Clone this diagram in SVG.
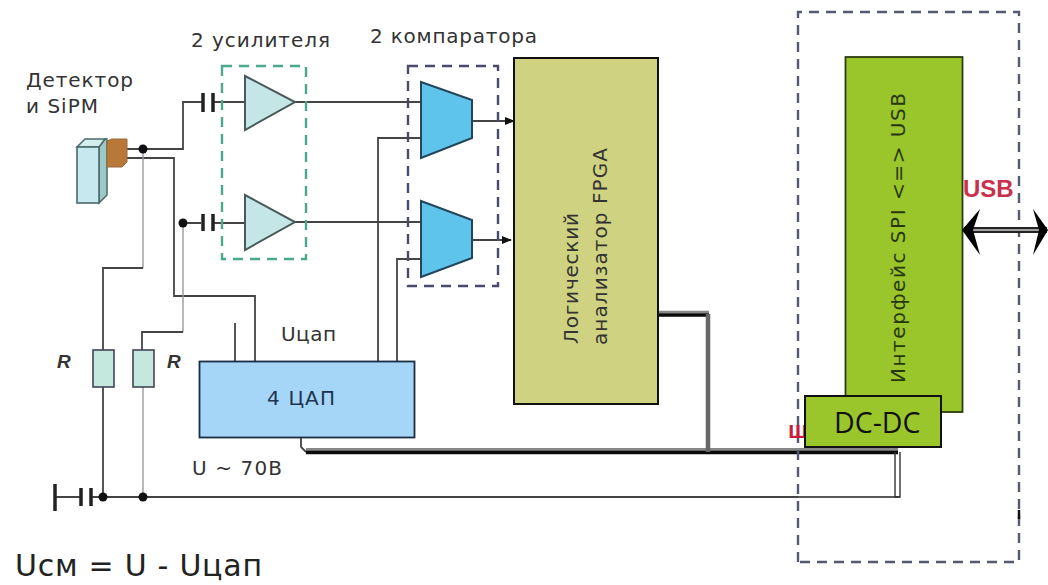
<svg xmlns="http://www.w3.org/2000/svg" width="1048" height="585" viewBox="0 0 1048 585">
<style>
text{font-family:"DejaVu Sans",sans-serif;fill:#333;font-size:20px}
.w{fill:none;stroke:#444;stroke-width:1.8}
.lt{fill:none;stroke:#999;stroke-width:1.4}
.plate{fill:none;stroke:#222;stroke-width:3.5}
.dash{fill:none;stroke-width:2.4;stroke-dasharray:10 7}
.amp{fill:#c4e6e6;stroke:#4a5a5a;stroke-width:2}
.cmp{fill:#5fc4ec;stroke:#24465a;stroke-width:2}
.res{fill:#c4e8de;stroke:#445;stroke-width:1.6}
.dot{fill:#111}
.r{font-family:"Liberation Sans",sans-serif;font-weight:bold;font-style:italic;font-size:19px}
</style>
<defs>
<marker id="ah" markerWidth="10" markerHeight="8" refX="9" refY="4" orient="auto" markerUnits="userSpaceOnUse"><path d="M0 0L10 4L0 8z" fill="#111"/></marker>
</defs>
<rect width="1048" height="585" fill="#fff"/>
<g id="connectors">
<path class="w" d="M127 149H183V102H203M213 102H245M295 102H421"/>
<path class="w" d="M127 158H174V296H255V361"/>
<path class="lt" d="M143 149V268"/>
<path class="w" d="M143 268H103V350M103 387V497"/>
<path class="lt" d="M183 223V332"/>
<path class="w" d="M183 332H142V350"/>
<path class="lt" d="M143 387V497"/>
<path class="w" d="M183 223H201M213 223H245M295 222H421"/>
<path class="w" d="M235 323V361M378 361V138H421M397 361V259H421"/>
<path class="w" marker-end="url(#ah)" d="M472 121H514"/>
<path class="w" marker-end="url(#ah)" d="M472 240H511"/>
<path class="w" d="M55 497H80M90 497H798"/>
<path fill="none" stroke="#222" stroke-width="1.600" d="M798 497H900"/>
<path class="plate" d="M55 484V511" stroke-width="3"/>
<path class="plate" d="M81 488V506M91 488V506"/>
<path class="w" d="M301 437V447L306 452"/>
<path fill="none" stroke="#888" stroke-width="3" d="M306 449.500H898"/>
<path fill="none" stroke="#0a0a0a" stroke-width="3.400" d="M306 452.500H898"/>
<path fill="none" stroke="#888" stroke-width="2.500" d="M658 312H709"/>
<path fill="none" stroke="#0a0a0a" stroke-width="3.400" d="M658 315H709"/>
<path d="M708 314V452" fill="none" stroke="#666" stroke-width="4.500"/>
<path fill="none" stroke="#333" stroke-width="1.400" d="M895 452V497H900V452"/>
<path class="plate" d="M203 93V112M213 93V112M203 214V231M213 214V231" stroke-width="4"/>
<circle class="dot" cx="143" cy="149" r="4.500"/>
<circle class="dot" cx="183" cy="223" r="4.500"/>
<circle class="dot" cx="103" cy="497" r="4.500"/>
<circle class="dot" cx="143" cy="497" r="4.500"/>
</g>
<g id="detector">
<path d="M99 147L105 139H107V195L99 203z" fill="#9cc8c8" stroke="#4a6a6a" stroke-width="1.500"/>
<path d="M77 147L85 139H105L99 147z" fill="#d4eeee" stroke="#4a6a6a" stroke-width="1.500"/>
<rect x="77" y="147" width="22" height="56" fill="#c6e8ee" stroke="#4a6a6a" stroke-width="1.600"/>
<path d="M107 141L112 139H127V162L122 167H107z" fill="#b87838" stroke="#9a6a3a"/>
<text x="26" y="87" textLength="107" lengthAdjust="spacing">Детектор</text>
<text x="26" y="113" textLength="72" lengthAdjust="spacing">и SiPM</text>
</g>
<g id="amplifiers">
<rect class="dash" x="222" y="66" width="84" height="193" stroke="#4aa88e"/>
<path class="amp" d="M245 76V130L295 102z"/>
<path class="amp" d="M245 195V250L295 222z"/>
<text x="191" y="47" textLength="139" lengthAdjust="spacing">2 усилителя</text>
</g>
<g id="comparators">
<rect class="dash" x="408" y="66" width="90" height="220" stroke="#4a4a6e"/>
<path class="cmp" d="M421 82L472 100V138L421 158z"/>
<path class="cmp" d="M421 201L472 220V258L421 277z"/>
<text x="370" y="43" textLength="167" lengthAdjust="spacing">2 компаратора</text>
</g>
<g id="fpga">
<rect x="514" y="58" width="144" height="346" fill="#cfd381" stroke="#111" stroke-width="2"/>
<text transform="translate(578 344) rotate(-90)" textLength="131" lengthAdjust="spacing">Логический</text>
<text transform="translate(607 345) rotate(-90)" textLength="197" lengthAdjust="spacing">анализатор FPGA</text>
</g>
<g id="dac">
<rect x="199.500" y="361.500" width="215" height="76" fill="#a6d6f7" stroke="#1c2c44" stroke-width="1.800"/>
<text x="267" y="405" textLength="68" lengthAdjust="spacing" style="fill:#1c3450">4 ЦАП</text>
<text x="281" y="341" textLength="55" lengthAdjust="spacing">Uцап</text>
<text x="192" y="475" textLength="90" lengthAdjust="spacing">U ~ 70B</text>
</g>
<g id="resistors">
<rect class="res" x="93" y="350" width="21" height="37"/>
<rect class="res" x="133" y="350" width="21" height="37"/>
<text class="r" x="57" y="368">R</text>
<text class="r" x="167" y="368">R</text>
</g>
<g id="usb-box">
<path class="dash" stroke="#555a70" d="M798 562V12H1019V562z"/>
<path d="M1019 510V519" stroke="#111" stroke-width="2.500" fill="none"/>
<rect x="845.500" y="57" width="117" height="355" fill="#9ac62c" stroke="#2c3a10" stroke-width="1.800"/>
<text transform="translate(905 383) rotate(-90)" textLength="290" lengthAdjust="spacing" style="fill:#28380c">Интерфейс SPI &lt;=&gt; USB</text>
<text x="788" y="438" style="fill:#c8203c;font-family:'Liberation Sans',sans-serif;font-weight:bold;font-size:24px">ш</text>
<rect id="dcdc" x="805" y="396" width="136" height="51" fill="#9ac62c" stroke="#111" stroke-width="2"/>
<text x="834" y="433" style="fill:#111;font-family:'Open Sans',sans-serif;font-size:28.500px">DC-DC</text>
<text x="963" y="197" style="fill:#c8304c;font-family:'Liberation Sans',sans-serif;font-weight:bold;font-size:24px">USB</text>
<path d="M964 230H1047" fill="none" stroke="#222" stroke-width="6"/>
<path d="M964 230H1047" fill="none" stroke="#ccc" stroke-width="1.500"/>
<path d="M962 230L980 209L973 230L980 255z" fill="#000"/>
<path d="M1048 230L1033 209L1039 230L1033 255z" fill="#000"/>
</g>
<text id="formula" x="15" y="576" textLength="247" lengthAdjust="spacing" style="fill:#222;font-size:30px">Uсм = U - Uцап</text>
</svg>
